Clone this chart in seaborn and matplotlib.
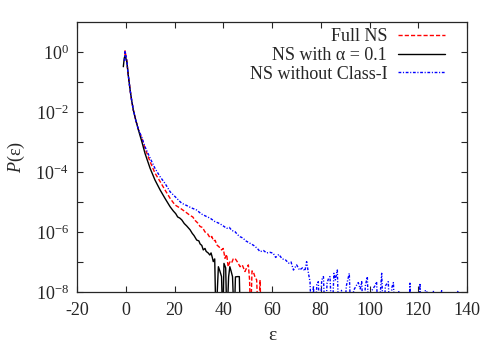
"""P(eps) distributions, log scale"""
import matplotlib
matplotlib.use('Agg')
import matplotlib.pyplot as plt
from matplotlib.ticker import FixedLocator, NullFormatter
import numpy as np
import pandas as pd
import seaborn as sns

# values: eps and log10 P(eps); -9 = dropped below the axis
eps_full = [-0.5, -0.3, 0.4, 1.1, 1.8, 2.4, 3.1, 4.1, 5.2, 6.6, 7.9, 10.0, 12.0,
            14.1, 16.1, 18.2, 20.2, 22.2, 24.3, 26.4, 27.5, 28.5, 29.5, 30.5, 31.5,
            32.5, 33.5, 34.6, 35.3, 36.0, 36.7, 37.3, 38.3, 39.3, 40.0, 40.7, 41.4,
            42.0, 42.7, 43.4, 44.1, 44.8, 45.8, 46.9, 47.8, 48.9, 49.6, 50.3, 50.8,
            51.2, 51.8, 52.3, 53.0, 53.7, 54.4, 55.1, 55.6]
logp_full = [-0.3, 0.04, -0.27, -0.82, -1.27, -1.6, -1.93, -2.27, -2.58, -2.88,
             -3.21, -3.66, -4.04, -4.32, -4.6, -4.88, -5.1, -5.2, -5.32, -5.45,
             -5.5, -5.62, -5.7, -5.82, -5.85, -6.0, -6.05, -6.2, -6.15, -6.3, -6.28,
             -6.43, -6.5, -6.6, -6.55, -6.88, -6.75, -7.16, -7.0, -7.04, -6.9, -6.88,
             -7.0, -7.16, -7.1, -7.32, -7.2, -7.1, -7.6, -9, -7.3, -7.32, -7.5, -7.6,
             -9, -7.6, -9]

eps_alpha = [-1.0, -0.6, -0.3, 0.4, 1.1, 1.8, 2.4, 3.1, 4.1, 5.2, 6.6, 7.9, 10.0,
             12.0, 14.1, 16.1, 18.2, 19.5, 20.5, 21.3, 22.2, 23.0, 24.0, 25.0, 26.4,
             27.3, 28.0, 29.1, 30.0, 30.5, 31.2, 31.8, 32.5, 33.0, 33.8, 34.5, 35.0,
             35.5, 35.9, 36.5, 37.0, 38.0, 38.6, 39.3, 39.8, 40.3, 41.0, 41.5, 42.2,
             42.7, 43.2, 43.8, 44.5, 45.0, 45.8, 46.6, 47.0]
logp_alpha = [-0.49, -0.2, -0.12, -0.3, -0.82, -1.27, -1.6, -1.93, -2.27, -2.6,
              -2.99, -3.38, -3.88, -4.27, -4.6, -4.88, -5.16, -5.3, -5.39, -5.5,
              -5.54, -5.6, -5.72, -5.8, -5.93, -6.05, -6.12, -6.27, -6.3, -6.4, -6.45,
              -6.6, -6.55, -6.65, -6.7, -6.77, -6.7, -6.85, -6.99, -6.9, -9, -7.16,
              -7.3, -7.49, -9, -7.05, -7.2, -9, -7.5, -7.16, -7.3, -7.49, -9, -7.5,
              -7.49, -7.49, -9]

eps_no_class1 = [-0.5, -0.3, 0.4, 1.1, 1.8, 2.4, 3.1, 4.1, 5.2, 6.6, 7.9, 10.0,
                 12.0, 14.1, 16.1, 18.2, 20.2, 22.9, 25.0, 27.0, 29.1, 31.0, 33.0,
                 34.6, 36.5, 38.5, 40.0, 41.4, 42.5, 43.5, 44.8, 46.0, 46.9, 48.0,
                 49.3, 51.0, 52.5, 54.0, 55.1, 56.5, 57.8, 59.2, 60.5, 61.5, 62.8,
                 64.2, 65.5, 66.8, 67.8, 68.8, 70.1, 71.3, 72.5, 73.5, 74.2, 75.0,
                 75.6, 76.2, 77.0, 77.6, 78.4, 79.0, 79.6, 80.4, 81.1, 81.8, 82.6,
                 83.2, 83.8, 84.6, 85.4, 86.0, 86.8, 87.4, 88.5, 89.5, 90.5, 91.7,
                 92.4, 93.5, 94.5, 95.4, 96.2, 96.8, 97.5, 98.3, 99.1, 99.8, 101.0,
                 102.2, 102.9, 103.6, 105.0, 105.7, 106.5, 107.7, 108.4, 109.2, 109.8,
                 110.5, 112.0, 113.0, 116.0, 116.6, 117.3, 120.0, 120.7, 121.4, 122.5,
                 123.5, 124.5, 126.2, 127.0, 129.6, 130.3, 136.4, 137.0]
logp_no_class1 = [-0.3, 0.04, -0.27, -0.82, -1.27, -1.6, -1.93, -2.27, -2.58,
                  -2.85, -3.16, -3.54, -3.88, -4.16, -4.38, -4.66, -4.82, -5.04,
                  -5.12, -5.2, -5.27, -5.4, -5.48, -5.54, -5.65, -5.72, -5.8, -5.88,
                  -5.85, -5.95, -5.99, -6.1, -6.16, -6.2, -6.3, -6.38, -6.45, -6.55,
                  -6.66, -6.62, -6.7, -6.68, -6.71, -6.85, -6.75, -6.9, -6.93, -7.04,
                  -7.0, -7.27, -7.1, -7.27, -7.2, -7.3, -6.99, -7.4, -7.66, -9, -7.8,
                  -9, -7.75, -7.66, -9, -7.6, -7.49, -9, -7.7, -7.55, -7.49, -9, -7.38,
                  -7.6, -7.27, -9, -7.95, -9, -7.8, -7.38, -9, -7.95, -7.8, -7.69, -7.9,
                  -7.66, -9, -7.8, -7.49, -9, -7.95, -7.8, -7.66, -9, -7.38, -9, -7.8,
                  -7.66, -9, -7.85, -7.69, -9, -7.96, -9, -9, -7.71, -9, -9, -7.71, -9,
                  -7.96, -7.96, -9, -7.96, -9, -7.96, -9, -7.96, -9]

series_labels = ['Full NS', 'NS with α = 0.1', 'NS without Class-I']
series_colors = ['#ff0000', '#000000', '#0000ff']
series_dashes = [(3, 1.5), None, (2, 1.2, 0.8, 1.2)]

x_ticks = [-20, 0, 20, 40, 60, 80, 100, 120, 140]
y_major = [1e-8, 1e-6, 1e-4, 1e-2, 1e0]
y_major_labels = ['$10^{-8}$', '$10^{-6}$', '$10^{-4}$', '$10^{-2}$', '$10^{0}$']
y_minor = [1e-7, 1e-5, 1e-3, 1e-1]


def main():
    frames = []
    for lab, e, lp in zip(series_labels,
                          [eps_full, eps_alpha, eps_no_class1],
                          [logp_full, logp_alpha, logp_no_class1]):
        frames.append(pd.DataFrame({'eps': e, 'P': np.power(10.0, lp), 'series': lab}))
    df = pd.concat(frames, ignore_index=True)

    sns.set_style('ticks')
    plt.rcParams['font.family'] = ['Liberation Serif', 'DejaVu Serif']
    plt.rcParams['mathtext.fontset'] = 'custom'
    plt.rcParams['mathtext.rm'] = 'Liberation Serif'
    plt.rcParams['mathtext.it'] = 'Liberation Serif:italic'
    plt.rcParams['axes.unicode_minus'] = False

    fig = plt.figure(figsize=(5, 3.5), dpi=100)
    ax = fig.add_axes([0.154, 0.166, 0.78, 0.771])

    for lab, col, dsh in zip(series_labels, series_colors, series_dashes):
        sub = df[df['series'] == lab]
        sns.lineplot(data=sub, x='eps', y='P', ax=ax, color=col, lw=1,
                     sort=False, estimator=None, label=lab)
        if dsh is not None:
            ax.lines[-1].set_dashes(dsh)

    ax.set_yscale('log')
    ax.set_xlim(-20, 140)
    ax.set_ylim(1e-8, 1e1)
    ax.set_xticks(x_ticks)
    ax.set_yticks(y_major)
    ax.set_yticklabels(y_major_labels)
    ax.yaxis.set_minor_locator(FixedLocator(y_minor))
    ax.yaxis.set_minor_formatter(NullFormatter())
    ax.tick_params(which='both', direction='in', top=True, right=True,
                   labelsize=13, width=0.8, length=4)
    ax.tick_params(axis='x', pad=7)
    ax.tick_params(axis='y', pad=6)
    for s in ax.spines.values():
        s.set_linewidth(0.9)

    ax.set_xlabel('ε', fontsize=14, labelpad=6)
    ax.set_ylabel('$P$(ε)', fontsize=13, labelpad=6)

    ax.legend(loc='upper right', bbox_to_anchor=(0.962, 1.004), frameon=False,
              markerfirst=False, handlelength=2.6, handletextpad=0.6,
              labelspacing=0.1, fontsize=13, borderaxespad=0)

    fig.savefig('out.png', dpi=100)


if __name__ == "__main__":
    main()
